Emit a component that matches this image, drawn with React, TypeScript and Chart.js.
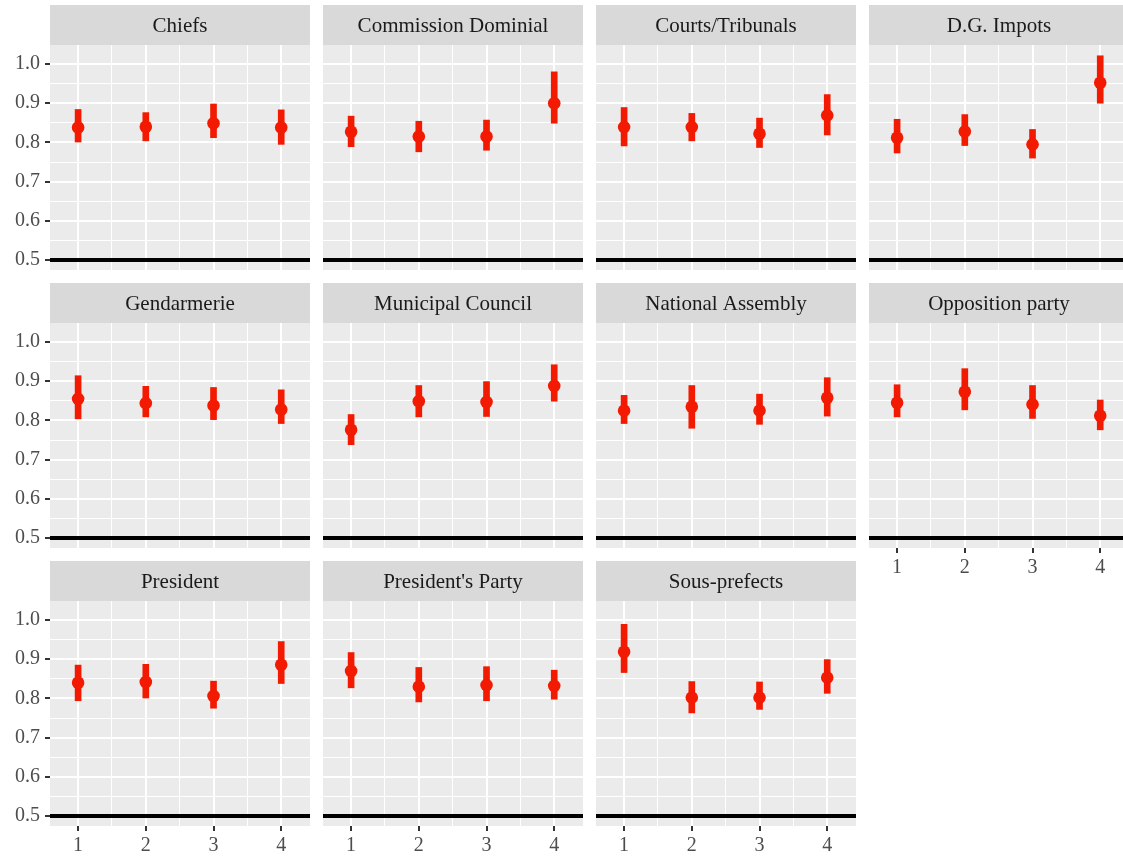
import React, { useEffect, useRef } from 'react';
import { Chart, registerables } from 'chart.js';

Chart.register(...registerables);

// ---------------- data ----------------
const PANEL_NAMES = [
  'Chiefs', 'Commission Dominial', 'Courts/Tribunals', 'D.G. Impots',
  'Gendarmerie', 'Municipal Council', 'National Assembly', 'Opposition party',
  'President', "President's Party", 'Sous-prefects',
];
const WAVES = [1, 2, 3, 4];

const EST = [
  [0.838, 0.840, 0.849, 0.838],
  [0.827, 0.815, 0.815, 0.900],
  [0.839, 0.839, 0.822, 0.869],
  [0.812, 0.828, 0.795, 0.952],
  [0.855, 0.844, 0.838, 0.828],
  [0.776, 0.849, 0.847, 0.888],
  [0.825, 0.835, 0.825, 0.858],
  [0.845, 0.873, 0.841, 0.812],
  [0.840, 0.842, 0.806, 0.886],
  [0.870, 0.830, 0.834, 0.832],
  [0.919, 0.802, 0.802, 0.853],
];
const LOWER = [
  [0.801, 0.804, 0.812, 0.795],
  [0.789, 0.776, 0.780, 0.849],
  [0.791, 0.804, 0.787, 0.819],
  [0.773, 0.792, 0.760, 0.900],
  [0.804, 0.809, 0.802, 0.792],
  [0.738, 0.809, 0.810, 0.849],
  [0.792, 0.780, 0.790, 0.811],
  [0.809, 0.827, 0.805, 0.776],
  [0.794, 0.801, 0.775, 0.838],
  [0.827, 0.791, 0.794, 0.798],
  [0.866, 0.763, 0.772, 0.813],
];
const UPPER = [
  [0.884, 0.876, 0.898, 0.883],
  [0.867, 0.854, 0.857, 0.980],
  [0.889, 0.874, 0.862, 0.922],
  [0.859, 0.871, 0.833, 1.021],
  [0.914, 0.887, 0.884, 0.878],
  [0.815, 0.889, 0.899, 0.942],
  [0.864, 0.889, 0.867, 0.909],
  [0.891, 0.932, 0.889, 0.852],
  [0.885, 0.887, 0.844, 0.945],
  [0.917, 0.879, 0.881, 0.872],
  [0.989, 0.843, 0.842, 0.899],
];

const Y_TICKS = [0.5, 0.55, 0.6, 0.65, 0.7, 0.75, 0.8, 0.85, 0.9, 0.95, 1.0];
const X_TICKS = [1, 1.5, 2, 2.5, 3, 3.5, 4];
const REF_LINE = 0.5;
const Y_MIN = 0.4745;
const Y_MAX = 1.0485;
const X_MIN = 0.585;
const X_MAX = 4.425;

// ---------------- layout ----------------
const N_COLS = 4;
const PANEL_W = 260;
const PLOT_H = 225;
const STRIP_H = 40;
const COL_PITCH = 273;
const ROW_PITCH = 278;
const LEFT0 = 50;
const TOP0 = 5;
const Y_AXIS_W = 50;
const X_AXIS_H = 32;

const RED = '#F21A00';
const FONT = '"Liberation Serif", "Times New Roman", serif';

const isMajor = (v: number, step: number) =>
  Math.abs(v / step - Math.round(v / step)) < 1e-6;

const decorPlugin = {
  id: 'panelDecor',
  beforeDraw(chart: any, _args: any, opts: any) {
    const { ctx, chartArea: a } = chart;
    ctx.save();
    ctx.fillStyle = '#D9D9D9';
    ctx.fillRect(a.left, a.top - STRIP_H, a.right - a.left, STRIP_H);
    ctx.fillStyle = '#EBEBEB';
    ctx.fillRect(a.left, a.top, a.right - a.left, a.bottom - a.top);
    ctx.fillStyle = '#1A1A1A';
    ctx.font = `21px ${FONT}`;
    ctx.textAlign = 'center';
    ctx.textBaseline = 'middle';
    ctx.fillText(opts.title, (a.left + a.right) / 2, a.top - STRIP_H / 2 + 1);
    ctx.restore();
  },
  beforeDatasetsDraw(chart: any) {
    const { ctx, chartArea: a } = chart;
    const y = chart.scales.y.getPixelForValue(REF_LINE);
    ctx.save();
    ctx.strokeStyle = '#000000';
    ctx.lineWidth = 4;
    ctx.beginPath();
    ctx.moveTo(a.left, y);
    ctx.lineTo(a.right, y);
    ctx.stroke();
    ctx.restore();
  },
};

function Panel({ idx }: { idx: number }) {
  const ref = useRef<HTMLCanvasElement | null>(null);
  const row = Math.floor(idx / N_COLS);
  const col = idx % N_COLS;
  const isLeft = col === 0;
  const isBottom = idx + N_COLS >= PANEL_NAMES.length;
  const axisW = isLeft ? Y_AXIS_W : 0;
  const axisH = isBottom ? X_AXIS_H : 0;
  const width = axisW + PANEL_W;
  const height = STRIP_H + PLOT_H + axisH;
  const left = LEFT0 + col * COL_PITCH - axisW;
  const top = TOP0 + row * ROW_PITCH;

  useEffect(() => {
    if (!ref.current) return;
    const barData = WAVES.map((w, i) => ({ x: w, y: [LOWER[idx][i], UPPER[idx][i]] }));
    const ptData = WAVES.map((w, i) => ({ x: w, y: EST[idx][i] }));
    const chart = new Chart(ref.current, {
      type: 'bar',
      data: {
        datasets: [
          {
            type: 'bar',
            data: barData as any,
            backgroundColor: RED,
            borderWidth: 0,
            barThickness: 6,
            grouped: false,
            order: 2,
          } as any,
          {
            type: 'line',
            data: ptData as any,
            showLine: false,
            pointRadius: 6.3,
            pointBackgroundColor: RED,
            pointBorderWidth: 0,
            borderColor: RED,
            order: 1,
          } as any,
        ],
      },
      options: {
        animation: false,
        responsive: false,
        devicePixelRatio: 1,
        events: [],
        layout: { autoPadding: false, padding: { top: STRIP_H, left: 0, right: 0, bottom: 0 } },
        plugins: {
          legend: { display: false },
          tooltip: { enabled: false },
          panelDecor: { title: PANEL_NAMES[idx] },
        } as any,
        scales: {
          x: {
            type: 'linear',
            min: X_MIN,
            max: X_MAX,
            offset: false,
            border: { display: false },
            grid: {
              offset: false,
              drawTicks: isBottom,
              tickLength: 5,
              color: '#FFFFFF',
              lineWidth: (c: any) => (c.tick && isMajor(c.tick.value, 1) ? 2 : 1),
              tickColor: (c: any) => (c.tick && isMajor(c.tick.value, 1) ? '#333333' : 'rgba(0,0,0,0)'),
              tickWidth: 2,
            },
            ticks: {
              display: isBottom,
              autoSkip: false,
              maxRotation: 0,
              padding: 3,
              color: '#4D4D4D',
              font: { family: FONT, size: 20 },
              callback: (v: any) => (isMajor(Number(v), 1) ? String(Math.round(Number(v))) : ''),
            },
            afterBuildTicks: (s: any) => {
              s.ticks = X_TICKS.map((v) => ({ value: v }));
            },
            afterFit: (s: any) => {
              s.height = axisH;
              s.paddingLeft = 0;
              s.paddingRight = 0;
            },
          },
          y: {
            type: 'linear',
            min: Y_MIN,
            max: Y_MAX,
            border: { display: false },
            grid: {
              drawTicks: isLeft,
              tickLength: 5,
              color: '#FFFFFF',
              lineWidth: (c: any) => (c.tick && isMajor(c.tick.value, 0.1) ? 2 : 1),
              tickColor: (c: any) => (c.tick && isMajor(c.tick.value, 0.1) ? '#333333' : 'rgba(0,0,0,0)'),
              tickWidth: 2,
            },
            ticks: {
              display: isLeft,
              autoSkip: false,
              padding: 5,
              color: '#4D4D4D',
              font: { family: FONT, size: 20 },
              callback: (v: any) => (isMajor(Number(v), 0.1) ? Number(v).toFixed(1) : ''),
            },
            afterBuildTicks: (s: any) => {
              s.ticks = Y_TICKS.map((v) => ({ value: v }));
            },
            afterFit: (s: any) => {
              s.width = axisW;
              s.paddingTop = 0;
              s.paddingBottom = 0;
            },
          },
        },
      } as any,
      plugins: [decorPlugin as any],
    });
    return () => chart.destroy();
  }, [idx]);

  return (
    <canvas
      ref={ref}
      width={width}
      height={height}
      style={{ position: 'absolute', left, top, width, height }}
    />
  );
}

export default function App() {
  return (
    <div
      style={{
        position: 'absolute',
        left: 0,
        top: 0,
        width: 1123,
        height: 857,
        overflow: 'hidden',
        background: '#FFFFFF',
      }}
    >
      {PANEL_NAMES.map((_, i) => (
        <Panel key={i} idx={i} />
      ))}
    </div>
  );
}
